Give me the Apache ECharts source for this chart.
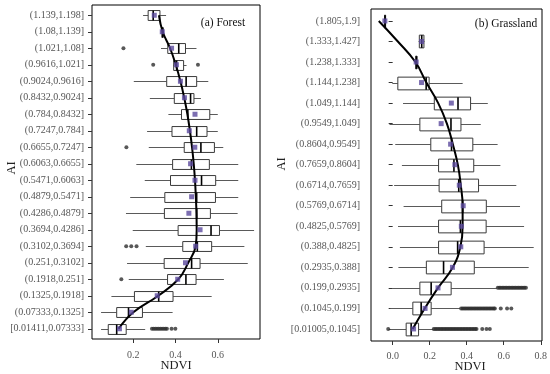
<!DOCTYPE html>
<html><head><meta charset="utf-8">
<script src="https://cdn.jsdelivr.net/npm/echarts@6/dist/echarts.min.js"></script>
<style>html,body{margin:0;padding:0;background:#fff}#c{width:550px;height:374px}</style>
</head><body><div id="c"></div>
<script>
// ---------- Forest panel ----------
const forestCats = ['(1.139,1.198]','(1.08,1.139]','(1.021,1.08]','(0.9616,1.021]','(0.9024,0.9616]','(0.8432,0.9024]','(0.784,0.8432]','(0.7247,0.784]','(0.6655,0.7247]','(0.6063,0.6655]','(0.5471,0.6063]','(0.4879,0.5471]','(0.4286,0.4879]','(0.3694,0.4286]','(0.3102,0.3694]','(0.251,0.3102]','(0.1918,0.251]','(0.1325,0.1918]','(0.07333,0.1325]','[0.01411,0.07333]'];
// [min, q1, median, q3, max]
const forestBox = [
 [0.246,0.270,0.294,0.326,0.355],
 [0.333,0.335,0.339,0.341,0.343],
 [0.331,0.363,0.415,0.447,0.499],
 [0.388,0.391,0.405,0.438,0.452],
 [0.202,0.358,0.450,0.500,0.555],
 [0.278,0.394,0.471,0.487,0.520],
 [0.366,0.428,0.458,0.562,0.600],
 [0.265,0.383,0.500,0.549,0.600],
 [0.273,0.441,0.520,0.584,0.626],
 [0.214,0.386,0.475,0.560,0.697],
 [0.254,0.376,0.523,0.590,0.697],
 [0.185,0.349,0.500,0.589,0.697],
 [0.165,0.347,0.500,0.565,0.694],
 [0.197,0.412,0.568,0.608,0.772],
 [0.259,0.434,0.503,0.571,0.726],
 [0.170,0.346,0.476,0.516,0.742],
 [0.178,0.362,0.449,0.497,0.629],
 [0.096,0.205,0.320,0.388,0.571],
 [0.047,0.121,0.177,0.243,0.386],
 [0.047,0.081,0.121,0.166,0.256]
];
const forestMean = [0.299,0.337,0.381,0.404,0.423,0.442,0.492,0.465,0.491,0.471,0.492,0.476,0.463,0.516,0.495,0.447,0.410,0.313,0.190,0.134];
const forestCurve = [0.321,0.339,0.374,0.401,0.423,0.441,0.456,0.468,0.478,0.486,0.492,0.496,0.499,0.500,0.495,0.460,0.413,0.318,0.200,0.130];
const forestOutliers = [
 [2, [0.153]],
 [3, [0.294, 0.506]],
 [8, [0.167]],
 [14, [0.166, 0.190, 0.215]],
 [16, [0.143]],
 [19, [0.288,0.296,0.304,0.312,0.320,0.328,0.336,0.344,0.352,0.359,0.381,0.399]]
];
const forestTicks = [0.2, 0.4, 0.6];

// ---------- Grassland panel ----------
const grassCats = ['(1.805,1.9]','(1.333,1.427]','(1.238,1.333]','(1.144,1.238]','(1.049,1.144]','(0.9549,1.049]','(0.8604,0.9549]','(0.7659,0.8604]','(0.6714,0.7659]','(0.5769,0.6714]','(0.4825,0.5769]','(0.388,0.4825]','(0.2935,0.388]','(0.199,0.2935]','(0.1045,0.199]','[0.01005,0.1045]'];
const grassBox = [
 [-0.046,-0.044,-0.041,-0.038,-0.036],
 [0.140,0.144,0.157,0.169,0.172],
 [0.122,0.124,0.129,0.131,0.133],
 [-0.002,0.028,0.181,0.197,0.378],
 [0.056,0.225,0.353,0.421,0.514],
 [-0.017,0.147,0.315,0.369,0.476],
 [0.014,0.206,0.318,0.433,0.567],
 [0.050,0.248,0.331,0.438,0.582],
 [0.008,0.251,0.357,0.464,0.668],
 [0.059,0.265,0.378,0.506,0.688],
 [0.029,0.248,0.366,0.505,0.710],
 [0.039,0.248,0.351,0.494,0.762],
 [0.031,0.182,0.275,0.441,0.735],
 [-0.004,0.147,0.208,0.316,0.562],
 [-0.013,0.109,0.154,0.208,0.363],
 [-0.012,0.073,0.100,0.140,0.220]
];
const grassMean = [-0.042,0.156,0.127,0.156,0.317,0.262,0.313,0.336,0.360,0.381,0.371,0.368,0.323,0.245,0.175,0.113];
const grassCurve = [-0.075,0.028,0.123,0.182,0.246,0.293,0.325,0.352,0.368,0.378,0.378,0.366,0.325,0.245,0.173,0.108];
const grassOutliers = [
 [13, [0.568,0.576,0.584,0.592,0.600,0.608,0.616,0.624,0.632,0.640,0.648,0.656,0.664,0.672,0.680,0.688,0.696,0.704,0.712,0.720]],
 [14, [0.370,0.378,0.386,0.394,0.402,0.410,0.418,0.426,0.434,0.442,0.450,0.458,0.466,0.474,0.482,0.490,0.498,0.506,0.514,0.522,0.530,0.538,0.546,0.552,0.584,0.618,0.641]],
 [15, [-0.024,0.222,0.230,0.238,0.246,0.254,0.262,0.270,0.278,0.286,0.294,0.302,0.310,0.318,0.326,0.334,0.342,0.350,0.358,0.366,0.374,0.382,0.390,0.398,0.406,0.414,0.422,0.430,0.438,0.446,0.453,0.484,0.507,0.525]]
];
const grassTicks = [0, 0.2, 0.4, 0.6, 0.8];

// ---------- build ----------
const FONT = 'Liberation Serif';
const chart = echarts.init(document.getElementById('c'), null, {renderer: 'canvas'});

function boxRender(ratio) {
  return function (params, api) {
    const cat = api.value(0);
    const mn = api.coord([api.value(1), cat]);
    const q1 = api.coord([api.value(2), cat]);
    const md = api.coord([api.value(3), cat]);
    const q3 = api.coord([api.value(4), cat]);
    const mx = api.coord([api.value(5), cat]);
    const h = api.size([0, 1])[1] * ratio;
    const y = Math.round(mn[1]) + 0.5;
    return {type: 'group', children: [
      {type: 'line', shape: {x1: mn[0], y1: y, x2: q1[0], y2: y}, style: {stroke: '#5a5a5a', lineWidth: 1}},
      {type: 'line', shape: {x1: q3[0], y1: y, x2: mx[0], y2: y}, style: {stroke: '#5a5a5a', lineWidth: 1}},
      {type: 'rect', shape: {x: q1[0], y: y - h / 2, width: q3[0] - q1[0], height: h}, style: {fill: '#fff', stroke: '#3a3a3a', lineWidth: 1}},
      {type: 'line', shape: {x1: md[0], y1: y - h / 2, x2: md[0], y2: y + h / 2}, style: {stroke: '#000', lineWidth: 1.6}}
    ]};
  };
}

function panelSeries(axisIdx, box, mean, curve, outliers, ratio) {
  const boxData = box.map((b, i) => [i].concat(b));
  const outData = [];
  outliers.forEach(([i, vals]) => vals.forEach(v => outData.push([v, i])));
  return [
    {type: 'custom', xAxisIndex: axisIdx, yAxisIndex: axisIdx, renderItem: boxRender(ratio),
     data: boxData, encode: {x: [1, 2, 3, 4, 5], y: 0}, z: 2, silent: true},
    {type: 'scatter', xAxisIndex: axisIdx, yAxisIndex: axisIdx, data: outData,
     symbol: 'circle', symbolSize: 4, itemStyle: {color: '#2e2e2e'}, z: 3, silent: true},
    {type: 'line', xAxisIndex: axisIdx, yAxisIndex: axisIdx, data: curve.map((v, i) => [v, i]),
     smooth: 0.45, showSymbol: false, lineStyle: {color: '#000', width: 2}, z: 4, silent: true},
    {type: 'scatter', xAxisIndex: axisIdx, yAxisIndex: axisIdx, data: mean.map((v, i) => [v, i]),
     symbol: 'rect', symbolSize: 5, itemStyle: {color: '#5b4a9e'}, z: 5, silent: true}
  ];
}

const labelStyle = {fontFamily: FONT, fontSize: 10, color: '#555'};
const fmt = v => Number(v).toFixed(1);

const option = {
  animation: false,
  backgroundColor: '#fff',
  grid: [
    {left: 92, top: 5, width: 168, height: 334, show: true, borderColor: '#000', borderWidth: 1, backgroundColor: 'transparent'},
    {left: 92, top: 7, width: 168, height: 330},
    {left: 371, top: 9, width: 171, height: 332, show: true, borderColor: '#000', borderWidth: 1, backgroundColor: 'transparent'},
    {left: 371, top: 10.7, width: 171, height: 328.5}
  ],
  xAxis: [
    {gridIndex: 0, type: 'value', show: false, min: 0, max: 1},
    {gridIndex: 1, type: 'value', min: 0.004, max: 0.8, position: 'bottom', offset: 2,
     axisLine: {show: false}, splitLine: {show: false},
     axisTick: {show: true, length: 4, customValues: forestTicks, lineStyle: {color: '#333'}},
     axisLabel: Object.assign({customValues: forestTicks, formatter: fmt, margin: 11}, labelStyle)},
    {gridIndex: 2, type: 'value', show: false, min: 0, max: 1},
    {gridIndex: 3, type: 'value', min: -0.117, max: 0.8, position: 'bottom', offset: 1.8,
     axisLine: {show: false}, splitLine: {show: false},
     axisTick: {show: true, length: 4, customValues: grassTicks, lineStyle: {color: '#333'}},
     axisLabel: Object.assign({customValues: grassTicks, formatter: fmt, margin: 10, showMaxLabel: true}, labelStyle)}
  ],
  yAxis: [
    {gridIndex: 0, type: 'value', show: false, min: 0, max: 1},
    {gridIndex: 1, type: 'category', data: forestCats, inverse: true,
     axisLine: {show: false}, splitLine: {show: false},
     axisTick: {show: true, length: 4, alignWithLabel: true, lineStyle: {color: '#333'}},
     axisLabel: Object.assign({margin: 8, interval: 0}, labelStyle)},
    {gridIndex: 2, type: 'value', show: false, min: 0, max: 1},
    {gridIndex: 3, type: 'category', data: grassCats, inverse: true,
     axisLine: {show: false}, splitLine: {show: false},
     axisTick: {show: true, length: 4, alignWithLabel: true, lineStyle: {color: '#333'}},
     axisLabel: Object.assign({margin: 11, interval: 0}, labelStyle)}
  ],
  graphic: [
    {type: 'text', x: 12, y: 168, rotation: Math.PI / 2, style: {text: 'AI', font: '12.5px "Liberation Serif"', fill: '#222', align: 'center', verticalAlign: 'middle', textAlign: 'center', textVerticalAlign: 'middle'}},
    {type: 'text', x: 282, y: 164, rotation: Math.PI / 2, style: {text: 'AI', font: '12.5px "Liberation Serif"', fill: '#222', align: 'center', verticalAlign: 'middle', textAlign: 'center', textVerticalAlign: 'middle'}},
    {type: 'text', x: 176, y: 366, style: {text: 'NDVI', font: '12.5px "Liberation Serif"', fill: '#222', align: 'center', verticalAlign: 'middle', textAlign: 'center', textVerticalAlign: 'middle'}},
    {type: 'text', x: 470, y: 366.5, style: {text: 'NDVI', font: '12.5px "Liberation Serif"', fill: '#222', align: 'center', verticalAlign: 'middle', textAlign: 'center', textVerticalAlign: 'middle'}},
    {type: 'text', x: 223, y: 22.5, style: {text: '(a) Forest', font: '11.5px "Liberation Serif"', fill: '#111', align: 'center', verticalAlign: 'middle', textAlign: 'center', textVerticalAlign: 'middle'}},
    {type: 'text', x: 506, y: 23.5, style: {text: '(b) Grassland', font: '11.5px "Liberation Serif"', fill: '#111', align: 'center', verticalAlign: 'middle', textAlign: 'center', textVerticalAlign: 'middle'}}
  ],
  series: [].concat(
    panelSeries(1, forestBox, forestMean, forestCurve, forestOutliers, 0.6),
    panelSeries(3, grassBox, grassMean, grassCurve, grassOutliers, 0.62)
  )
};
chart.setOption(option);
</script>
</body></html>
